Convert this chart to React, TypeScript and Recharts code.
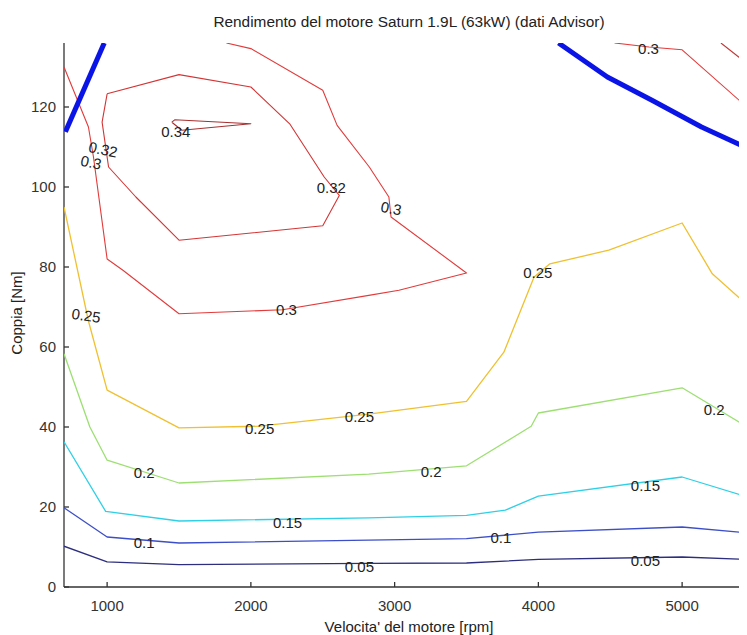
import React from 'react';
import { ScatterChart, Scatter, XAxis, YAxis } from 'recharts';

const xTicks = [1000, 2000, 3000, 4000, 5000];
const yTicks = [0, 20, 40, 60, 80, 100, 120];

// curve di iso-rendimento, coppie [rpm, Nm]
const eff005 = [[700, 10.2], [1000, 6.3], [1500, 5.6], [2820, 5.9], [3500, 6], [4000, 6.9], [5000, 7.5], [5500, 6.8]];
const eff010 = [[700, 19.8], [1000, 12.5], [1500, 11], [2820, 11.7], [3500, 12.1], [4000, 13.7], [5000, 15], [5500, 13.4]];
const eff015 = [[700, 36.3], [990, 18.9], [1500, 16.5], [2820, 17.3], [3500, 17.9], [3770, 19.2], [4000, 22.7], [5000, 27.5], [5500, 22]];
const eff020 = [[700, 58.3], [880, 40], [1000, 31.7], [1500, 26], [2820, 28.2], [3500, 30.3], [3950, 40.2], [4000, 43.5], [5000, 49.8], [5500, 39]];
const eff025 = [[700, 95], [870, 66.5], [1000, 49.2], [1500, 39.8], [2060, 40.2], [2820, 43.2], [3500, 46.4], [3760, 58.7], [3970, 77.5], [4080, 80.8], [4490, 84.2], [5000, 91], [5210, 78.3], [5500, 69]];
const eff030 = [[700, 130], [870, 115], [905, 107.5], [1000, 82], [1110, 79.2], [1500, 68.3], [2220, 69.3], [2820, 72.9], [3030, 74.2], [3500, 78.5], [2975, 92.5], [2960, 97.5], [2824, 105], [2600, 115.4], [2500, 124.2], [2000, 134.6], [1830, 136]];
const eff030b = [[4530, 136], [4770, 135], [5000, 134.3], [5500, 118.4]];
const eff032 = [[1000, 123.3], [1500, 128.1], [2000, 125], [2270, 115.8], [2510, 102.5], [2615, 97.9], [2500, 90.3], [1500, 86.7], [1200, 97.5], [1010, 105], [965, 116.2], [1000, 123.3]];
const eff032b = [[5270, 136], [5500, 129.5]];
const eff034 = [[1450, 116.2], [1470, 116.8], [2000, 115.8], [1520, 114.2], [1450, 116.2]];
// coppia massima
const maxTorqueA = [[710, 113.8], [980, 136]];
const maxTorqueB = [[4140, 136], [4480, 127.5], [4790, 121.7], [5135, 115], [5500, 109]];

const labelText = ['0.34', '0.32', '0.3', '0.32', '0.3', '0.3', '0.25', '0.3', '0.25', '0.25', '0.25', '0.2', '0.2', '0.2', '0.15', '0.15', '0.1', '0.1', '0.05', '0.05'];
const labelRpm = [1478, 972, 889, 2560, 2976, 4766, 854, 2248, 3996, 2061, 2755, 1257, 3254, 5223, 2255, 4745, 1257, 3739, 2755, 4745];
const labelNm = [113.9, 109.4, 106.2, 99.9, 94.7, 134.7, 67.9, 69.4, 78.7, 39.7, 42.7, 28.7, 28.9, 44.4, 16.2, 25.4, 11.2, 12.4, 5.2, 6.7];
const labelTilt = [0, 12, 12, 0, 10, 0, 8, 0, 0, 0, 0, 0, 0, 0, 0, 0, 0, 0, 0, 0];

const toPts = (arr: number[][]) => arr.map(([x, y]) => ({ x, y }));

const lines = [
  { pts: eff005, color: '#2d2e7e', w: 1.3 },
  { pts: eff010, color: '#3c4fc8', w: 1.3 },
  { pts: eff015, color: '#2fd0e6', w: 1.3 },
  { pts: eff020, color: '#9ddf72', w: 1.3 },
  { pts: eff025, color: '#f0c030', w: 1.3 },
  { pts: eff030, color: '#e23b3b', w: 1.1 },
  { pts: eff030b, color: '#e23b3b', w: 1.1 },
  { pts: eff032, color: '#d33535', w: 1.1 },
  { pts: eff032b, color: '#c03434', w: 1.1 },
  { pts: eff034, color: '#a83030', w: 1.1 },
  { pts: maxTorqueA, color: '#0a14e6', w: 5 },
  { pts: maxTorqueB, color: '#0a14e6', w: 5 },
];

const labels = labelText.map((t, i) => ({ x: labelRpm[i], y: labelNm[i], t, rot: labelTilt[i] }));

const noDot = () => <g />;

const LevelText = (props: any) => {
  const { cx, cy, payload } = props;
  return (
    <text
      x={cx}
      y={cy}
      textAnchor="middle"
      dominantBaseline="central"
      fontSize={15}
      fill="#222"
      transform={payload.rot ? `rotate(${payload.rot} ${cx} ${cy})` : undefined}
    >
      {payload.t}
    </text>
  );
};

export default function App() {
  return (
    <div style={{ position: 'relative', width: 739, height: 627, overflow: 'hidden', fontFamily: '"Liberation Sans", Arial, sans-serif', color: '#222' }}>
      <style>{'html,body{overflow:hidden}'}</style>
      <div style={{ position: 'absolute', left: 0, top: 5, width: 802, textAlign: 'center', fontSize: 15.4 }}>
        Rendimento del motore Saturn 1.9L (63kW) (dati Advisor)
      </div>
      <div style={{ position: 'absolute', left: 0, top: 610, width: 802, textAlign: 'center', fontSize: 15 }}>
        Velocita' del motore [rpm]
      </div>
      <div style={{ position: 'absolute', left: 8, top: 305, transform: 'translate(-50%, -50%) rotate(-90deg)', whiteSpace: 'nowrap', fontSize: 15 }}>
        Coppia [Nm]
      </div>
      <ScatterChart width={746} height={627} margin={{ top: 35, right: 0, bottom: 0, left: 0 }}>
        <XAxis
          type="number"
          dataKey="x"
          domain={[700, 5500]}
          allowDataOverflow
          ticks={xTicks}
          height={48}
          tickSize={-5}
          tickMargin={18}
          stroke="#333"
          strokeWidth={1.3}
          tick={{ fontSize: 15, fill: '#333' }}
        />
        <XAxis
          xAxisId="top"
          orientation="top"
          type="number"
          dataKey="x"
          domain={[700, 5500]}
          allowDataOverflow
          ticks={xTicks}
          height={0}
          tickSize={-5}
          tick={false}
          stroke="#444"
        />
        <YAxis
          type="number"
          dataKey="y"
          domain={[0, 136]}
          allowDataOverflow
          ticks={yTicks}
          width={56}
          tickSize={-5}
          tickMargin={13}
          stroke="#333"
          strokeWidth={1.3}
          tick={{ fontSize: 15, fill: '#333' }}
        />
        {lines.map((l, i) => (
          <Scatter
            key={i}
            data={toPts(l.pts)}
            line={{ stroke: l.color, strokeWidth: l.w, strokeLinejoin: 'round' }}
            lineJointType="linear"
            shape={noDot}
            isAnimationActive={false}
          />
        ))}
        <Scatter data={labels} shape={LevelText} isAnimationActive={false} />
      </ScatterChart>
    </div>
  );
}
